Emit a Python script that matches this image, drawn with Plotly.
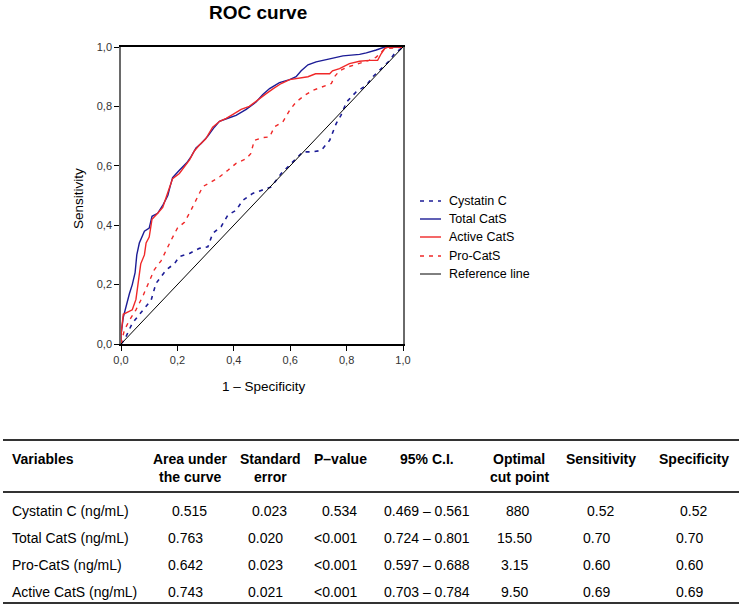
import plotly.graph_objects as go

# ---------------- data ----------------
series_names = ["Cystatin C", "Total CatS", "Active CatS", "Pro-CatS", "Reference line"]

cys_x = [0, 0.012, 0.04, 0.077, 0.107, 0.124, 0.16, 0.19, 0.207, 0.243, 0.278, 0.308, 0.325, 0.355,
         0.379, 0.408, 0.432, 0.467, 0.503, 0.533, 0.568, 0.604, 0.627, 0.645, 0.68, 0.71, 0.74,
         0.763, 0.78, 0.80, 0.834, 0.87, 0.893, 0.929, 0.953, 0.97, 1.0]
cys_y = [0, 0.013, 0.07, 0.114, 0.148, 0.204, 0.249, 0.271, 0.294, 0.305, 0.322, 0.327, 0.372, 0.395,
         0.434, 0.45, 0.484, 0.507, 0.518, 0.529, 0.574, 0.608, 0.63, 0.647, 0.647, 0.652, 0.686,
         0.742, 0.77, 0.815, 0.849, 0.871, 0.90, 0.933, 0.955, 0.978, 1.0]

tot_x = [0, 0, 0.008, 0.018, 0.03, 0.04, 0.05, 0.056, 0.065, 0.083, 0.10, 0.11, 0.13, 0.15, 0.166,
         0.174, 0.183, 0.207, 0.233, 0.248, 0.266, 0.284, 0.308, 0.331, 0.349, 0.379, 0.408, 0.444,
         0.479, 0.503, 0.527, 0.562, 0.598, 0.621, 0.639, 0.663, 0.692, 0.74, 0.787, 0.846, 0.870,
         0.905, 0.935, 1.0]
tot_y = [0, 0.03, 0.09, 0.13, 0.17, 0.20, 0.24, 0.30, 0.34, 0.38, 0.39, 0.43, 0.44, 0.47, 0.50,
         0.53, 0.56, 0.585, 0.61, 0.63, 0.66, 0.675, 0.70, 0.73, 0.75, 0.76, 0.77, 0.79,
         0.815, 0.84, 0.86, 0.88, 0.89, 0.90, 0.92, 0.94, 0.95, 0.96, 0.97, 0.975, 0.98,
         0.99, 1.0, 1.0]

act_x = [0, 0, 0.008, 0.04, 0.053, 0.06, 0.07, 0.083, 0.089, 0.10, 0.107, 0.11, 0.13, 0.148, 0.166,
         0.183, 0.207, 0.225, 0.243, 0.26, 0.278, 0.30, 0.325, 0.35, 0.373, 0.40, 0.426, 0.455,
         0.485, 0.515, 0.54, 0.568, 0.598, 0.633, 0.663, 0.69, 0.74, 0.75, 0.775, 0.81, 0.846,
         0.88, 0.91, 0.923, 0.935, 0.947, 1.0]
act_y = [0, 0.03, 0.10, 0.115, 0.15, 0.20, 0.27, 0.30, 0.34, 0.36, 0.395, 0.42, 0.44, 0.46, 0.51,
         0.557, 0.574, 0.596, 0.62, 0.65, 0.67, 0.69, 0.73, 0.75, 0.76, 0.775, 0.79, 0.80,
         0.82, 0.843, 0.86, 0.877, 0.89, 0.896, 0.90, 0.91, 0.91, 0.92, 0.927, 0.944, 0.952,
         0.955, 0.955, 0.978, 0.995, 1.0, 1.0]

pro_x = [0, 0.012, 0.03, 0.053, 0.077, 0.095, 0.118, 0.142, 0.16, 0.178, 0.20, 0.225, 0.248, 0.272,
         0.29, 0.32, 0.35, 0.379, 0.408, 0.444, 0.46, 0.473, 0.503, 0.527, 0.544, 0.574, 0.598,
         0.621, 0.651, 0.68, 0.71, 0.746, 0.757, 0.775, 0.805, 0.846, 0.88, 0.905, 0.923, 0.935, 1.0]
pro_y = [0, 0.047, 0.08, 0.115, 0.16, 0.20, 0.25, 0.28, 0.316, 0.35, 0.39, 0.41, 0.45, 0.495,
         0.53, 0.546, 0.563, 0.585, 0.608, 0.624, 0.641, 0.686, 0.695, 0.697, 0.731, 0.748, 0.787,
         0.815, 0.837, 0.854, 0.865, 0.877, 0.90, 0.92, 0.933, 0.944, 0.955, 0.966, 0.983, 0.994, 1.0]

ref_x = [0, 1]
ref_y = [0, 1]

tick_vals = [0.0, 0.2, 0.4, 0.6, 0.8, 1.0]
tick_text = ["0,0", "0,2", "0,4", "0,6", "0,8", "1,0"]

# table
tbl_headers = [["Variables"], ["Area under", "the curve"], ["Standard", "error"], ["P\u2013value"],
               ["95% C.I."], ["Optimal", "cut point"], ["Sensitivity"], ["Specificity"]]
tbl_vars = ["Cystatin C (ng/mL)", "Total CatS (ng/mL)", "Pro-CatS (ng/mL)", "Active CatS (ng/mL)"]
tbl_auc = ["0.515", "0.763", "0.642", "0.743"]
tbl_se = ["0.023", "0.020", "0.023", "0.021"]
tbl_p = ["0.534", "<0.001", "<0.001", "<0.001"]
tbl_ci = ["0.469 \u2013 0.561", "0.724 \u2013 0.801", "0.597 \u2013 0.688", "0.703 \u2013 0.784"]
tbl_cut = ["880", "15.50", "3.15", "9.50"]
tbl_sens = ["0.52", "0.70", "0.60", "0.69"]
tbl_spec = ["0.52", "0.70", "0.60", "0.69"]

# ---------------- figure ----------------
W, H = 739, 606
FONT = "Liberation Sans, Arial, sans-serif"
NAVY = "#1c1c96"
RED = "#f02828"
DASH = "4px,5px"

styles = [
    dict(color=NAVY, width=1.6, dash=DASH),
    dict(color=NAVY, width=1.4),
    dict(color=RED, width=1.4),
    dict(color=RED, width=1.4, dash=DASH),
    dict(color="black", width=1),
]

fig = go.Figure()
for xs, ys, nm, st in zip([cys_x, tot_x, act_x, pro_x, ref_x], [cys_y, tot_y, act_y, pro_y, ref_y],
                          series_names, styles):
    fig.add_trace(go.Scatter(x=xs, y=ys, mode="lines", name=nm, line=st, showlegend=False))


def px(x):
    return x / W


def py(y):
    return 1 - y / H


def text(t, x, y, size, xa="center", angle=0):
    return dict(text=t, x=px(x), y=py(y), xref="paper", yref="paper", showarrow=False,
                xanchor=xa, yanchor="middle", textangle=angle,
                font=dict(size=size, family=FONT, color="black"))


x0, x1 = 121, 403
y0, y1 = 47, 344

ann = []
shapes = []
ann.append(text("<b>ROC curve</b>", 258, 12, 19))
ann.append(text("Sensitivity", 79, 199, 13.5, angle=-90))
ann.append(text("1 \u2013 Specificity", 264, 386, 13.5))

# custom legend
leg_y = [201, 219, 237, 256, 274]
for nm, st, ly in zip(series_names, styles, leg_y):
    shapes.append(dict(type="line", xref="paper", yref="paper", x0=px(420), x1=px(441),
                       y0=py(ly), y1=py(ly), line=st))
    ann.append(text(nm, 447, ly, 12.5, xa="left"))

# table text
col_x = [10, 190, 270, 340, 427, 519, 601, 694]
hdr_y = [459, 477]
for i, h in enumerate(tbl_headers):
    for j, line in enumerate(h):
        ann.append(text("<b>" + line + "</b>", col_x[i], hdr_y[j], 14,
                        xa="left" if i == 0 else "center"))
row_y = [511, 538, 565, 592]
row_shift = [-1, -5, -5, -5]
cols = [tbl_auc, tbl_se, tbl_p, tbl_ci, tbl_cut, tbl_sens, tbl_spec]
for r in range(len(tbl_vars)):
    ann.append(text(tbl_vars[r], col_x[0], row_y[r], 14, xa="left"))
    for c, colvals in enumerate(cols):
        sh = 0 if c == 3 else row_shift[r]
        ann.append(text(colvals[r], col_x[c + 1] + sh, row_y[r], 14))

for yy in [440, 492, 603]:
    shapes.append(dict(type="line", xref="paper", yref="paper", x0=px(3), x1=px(739),
                       y0=py(yy), y1=py(yy), line=dict(color="#333333", width=2)))

fig.update_layout(
    width=W, height=H,
    margin=dict(l=0, r=0, t=0, b=0, autoexpand=False),
    paper_bgcolor="white", plot_bgcolor="white",
    font=dict(family=FONT, color="black"),
    showlegend=False,
    xaxis=dict(domain=[px(x0), px(x1)], range=[0, 1], tickvals=tick_vals, ticktext=tick_text,
               ticks="outside", ticklen=5, tickcolor="black", tickwidth=1,
               showline=True, linecolor="black", linewidth=1.5, mirror=True,
               showgrid=False, zeroline=False, automargin=False,
               tickfont=dict(size=11, family=FONT, color="#333333")),
    yaxis=dict(domain=[py(y1), py(y0)], range=[0, 1], tickvals=tick_vals, ticktext=tick_text,
               ticks="outside", ticklen=5, tickcolor="black", tickwidth=1,
               showline=True, linecolor="#6a6a6a", linewidth=1.5, mirror=True,
               showgrid=False, zeroline=False, automargin=False,
               tickfont=dict(size=11, family=FONT, color="#333333")),
    annotations=ann,
    shapes=shapes,
)

fig.write_html("out.html", config={"displayModeBar": False},
               post_script="document.body.style.margin='0px';document.body.style.overflow='hidden';")
